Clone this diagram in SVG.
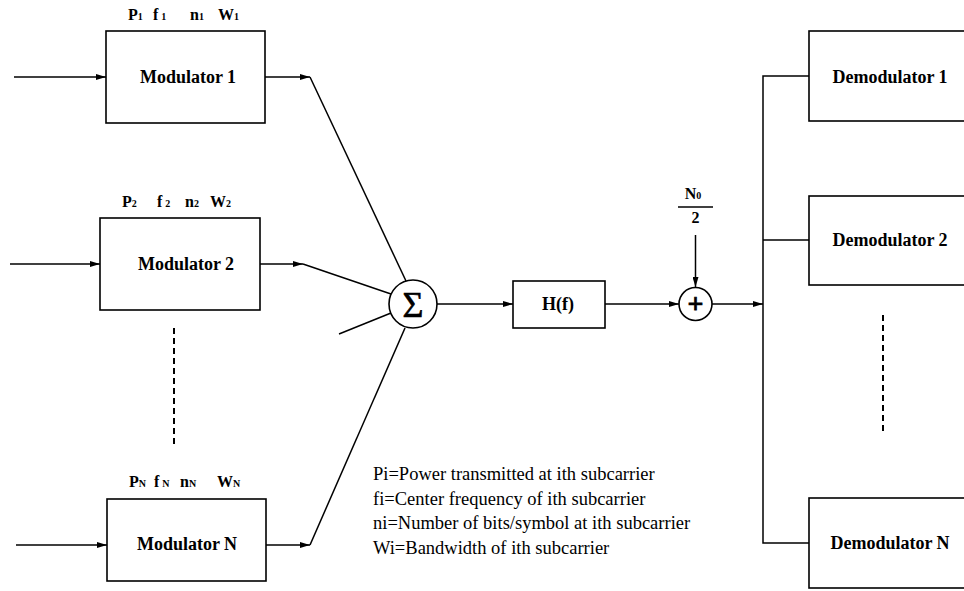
<svg xmlns="http://www.w3.org/2000/svg" width="964" height="591" viewBox="0 0 964 591">
<style>
.box{fill:#fff;stroke:#000;stroke-width:1.6}
.ln{fill:none;stroke:#000;stroke-width:1.5}
.arr{fill:none;stroke:#000;stroke-width:1.5;marker-end:url(#ah)}
.dash{fill:none;stroke:#000;stroke-width:2;stroke-dasharray:6 4}
.lbl{font-family:"Liberation Serif","Times New Roman",serif;font-weight:bold;font-size:18px;text-anchor:middle}
.par{font-family:"Liberation Serif","Times New Roman",serif;font-weight:bold;font-size:16px}
.sub{font-size:10px}
.leg{font-family:"Liberation Serif","Times New Roman",serif;font-size:18.5px}
</style>
<defs>
<marker id="ah" viewBox="0 0 10 6" refX="10" refY="3" markerWidth="10" markerHeight="6" markerUnits="userSpaceOnUse" orient="auto">
<path d="M0,0 L10,3 L0,6 z" fill="#000"/>
</marker>
</defs>
<rect width="964" height="591" fill="#fff"/>
<g id="connectors">
<line class="arr" x1="14" y1="77" x2="106" y2="77"/>
<line class="arr" x1="265" y1="77" x2="310" y2="77"/>
<line class="ln" x1="310" y1="77" x2="406" y2="281"/>
<line class="arr" x1="10" y1="264" x2="100" y2="264"/>
<line class="arr" x1="260" y1="264" x2="303" y2="264"/>
<line class="ln" x1="303" y1="264" x2="391" y2="294"/>
<line class="ln" x1="339" y1="334" x2="391" y2="313"/>
<line class="arr" x1="16" y1="545" x2="107" y2="545"/>
<line class="arr" x1="266" y1="545" x2="310" y2="545"/>
<line class="ln" x1="310" y1="545" x2="405" y2="328"/>
<line class="arr" x1="437" y1="304" x2="513" y2="304"/>
<line class="arr" x1="605" y1="304" x2="679" y2="304"/>
<line class="arr" x1="695.5" y1="235" x2="695.5" y2="287"/>
<line class="arr" x1="712" y1="304" x2="763" y2="304"/>
<polyline class="ln" points="809,76 763,76 763,543 809,543"/>
<line class="ln" x1="763" y1="240" x2="809" y2="240"/>
<line class="dash" x1="174" y1="328" x2="174" y2="447"/>
<line class="dash" x1="883" y1="315" x2="883" y2="433"/>
</g>
<g id="mod1">
<rect class="box" x="106" y="31" width="159" height="92"/>
<text class="lbl" x="188" y="83">Modulator 1</text>
<text class="par" y="20"><tspan x="128">P</tspan><tspan class="sub">1</tspan><tspan x="153">f</tspan><tspan class="sub" dx="3">1</tspan><tspan x="190">n</tspan><tspan class="sub">1</tspan><tspan x="218">W</tspan><tspan class="sub">1</tspan></text>
</g>
<g id="mod2">
<rect class="box" x="100" y="218" width="160" height="92"/>
<text class="lbl" x="186" y="270">Modulator 2</text>
<text class="par" y="207"><tspan x="122">P</tspan><tspan class="sub">2</tspan><tspan x="157">f</tspan><tspan class="sub" dx="3">2</tspan><tspan x="185">n</tspan><tspan class="sub">2</tspan><tspan x="210">W</tspan><tspan class="sub">2</tspan></text>
</g>
<g id="modN">
<rect class="box" x="107" y="499" width="159" height="82"/>
<text class="lbl" x="187" y="550">Modulator N</text>
<text class="par" y="487"><tspan x="129">P</tspan><tspan class="sub">N</tspan><tspan x="154">f</tspan><tspan class="sub" dx="3">N</tspan><tspan x="180">n</tspan><tspan class="sub">N</tspan><tspan x="217">W</tspan><tspan class="sub">N</tspan></text>
</g>
<g id="sum">
<circle class="box" cx="413" cy="304" r="24"/>
<text x="413" y="317" font-family="Liberation Serif,serif" font-size="36" text-anchor="middle" stroke="#000" stroke-width="0.6">Σ</text>
</g>
<g id="hf">
<rect class="box" x="513" y="281" width="92" height="47"/>
<text class="lbl" x="558" y="310">H(f)</text>
</g>
<g id="adder">
<circle class="box" cx="695.5" cy="304" r="16.5"/>
<text x="695.5" y="313" font-family="Liberation Serif,serif" font-weight="bold" font-size="28" text-anchor="middle" stroke="#000" stroke-width="0.8">+</text>
</g>
<g id="noise">
<text class="par" x="693" y="199" text-anchor="middle">N<tspan class="sub">0</tspan></text>
<line class="ln" x1="678" y1="207" x2="713" y2="207" stroke-width="2"/>
<text class="par" x="695.5" y="223" text-anchor="middle">2</text>
</g>
<g id="demod1">
<rect class="box" x="809" y="31" width="170" height="90"/>
<text class="lbl" x="890" y="83">Demodulator 1</text>
</g>
<g id="demod2">
<rect class="box" x="809" y="196" width="170" height="89"/>
<text class="lbl" x="890" y="246">Demodulator 2</text>
</g>
<g id="demodN">
<rect class="box" x="809" y="498" width="170" height="90"/>
<text class="lbl" x="890" y="549">Demodulator N</text>
</g>
<g id="legend">
<text class="leg" x="373" y="480">Pi=Power transmitted at ith subcarrier</text>
<text class="leg" x="373" y="505">fi=Center frequency of ith subcarrier</text>
<text class="leg" x="373" y="529">ni=Number of bits/symbol at ith subcarrier</text>
<text class="leg" x="373" y="554">Wi=Bandwidth of ith subcarrier</text>
</g>
</svg>
